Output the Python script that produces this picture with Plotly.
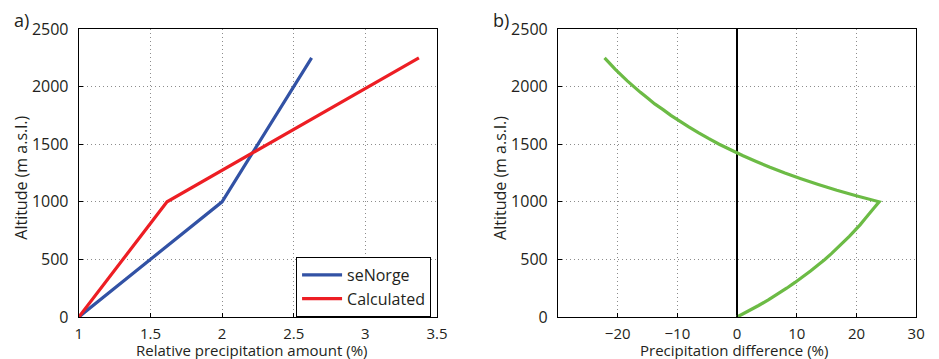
import plotly.graph_objects as go
from plotly.subplots import make_subplots

# Panel a) relative precipitation vs altitude
alt_blue = [0, 1000, 2250]
senorge = [1.0, 2.0, 2.625]
alt_red = [0, 1000, 2250]
calculated = [1.0, 1.616, 3.374]

# Panel b) precipitation difference (%) vs altitude
alt_diff = [0, 50, 100, 150, 200, 250, 300, 350, 400, 450, 500, 550, 600, 650, 700, 750,
            800, 850, 900, 950, 1000,
            1050, 1100, 1150, 1200, 1250, 1300, 1350, 1400, 1450, 1500, 1550, 1600, 1650,
            1700, 1750, 1800, 1850, 1900, 1950, 2000, 2050, 2100, 2150, 2200, 2250]
diff = [0.0, 1.8, 3.6, 5.3, 6.8, 8.3, 9.7, 11.0, 12.3, 13.5, 14.7, 15.8, 16.8, 17.8, 18.8, 19.7,
        20.6, 21.4, 22.2, 23.0, 23.8,
        20.1, 16.7, 13.6, 10.7, 8.0, 5.5, 3.2, 1.0, -1.0, -3.0, -4.8, -6.5, -8.1,
        -9.6, -11.1, -12.4, -13.8, -15.0, -16.2, -17.3, -18.4, -19.4, -20.4, -21.3, -22.2]

xticks_a = [1, 1.5, 2, 2.5, 3, 3.5]
xticklabels_a = ["1", "1.5", "2", "2.5", "3", "3.5"]
xticks_b = [-20, -10, 0, 10, 20, 30]
yticks = [0, 500, 1000, 1500, 2000, 2500]

W, H = 939, 359
TOP, BOT = 29, 42
PH = H - TOP - BOT
FONT = "Open Sans"
TXT = "#231f20"
DOM_A = [76 / W, 440 / W]
DOM_B = [563 / W, 927 / W]

fig = make_subplots(rows=1, cols=2)

fig.add_trace(go.Scatter(x=senorge, y=alt_blue, mode="lines", name="seNorge",
                         line=dict(color="rgb(50,82,165)", width=3.2)), row=1, col=1)
fig.add_trace(go.Scatter(x=calculated, y=alt_red, mode="lines", name="Calculated",
                         line=dict(color="rgb(237,30,36)", width=3.2)), row=1, col=1)
fig.add_trace(go.Scatter(x=diff, y=alt_diff, mode="lines", showlegend=False,
                         line=dict(color="rgb(108,187,69)", width=3.2, simplify=False)), row=1, col=2)

axis_common = dict(showline=True, linecolor="black", linewidth=1.2, mirror=True,
                   ticks="inside", ticklen=4, tickcolor="black",
                   showgrid=True, gridcolor="rgb(140,140,140)", griddash="1px,3px", gridwidth=1,
                   zeroline=False)

fig.update_xaxes(axis_common)
fig.update_yaxes(axis_common)
fig.update_xaxes(ticklabelstandoff=3, tickfont=dict(family=FONT, size=15, color=TXT))
fig.update_yaxes(ticklabelstandoff=6, tickfont=dict(family=FONT, size=16, color=TXT))


def ann(text, x, y, angle=0, size=16, xanchor="center", yanchor="middle"):
    return dict(text=text, x=x, y=y, xref="paper", yref="paper", showarrow=False,
                textangle=angle, xanchor=xanchor, yanchor=yanchor,
                font=dict(family=FONT, size=size, color=TXT))


def py(pix):
    # pixel row -> paper y
    return (H - BOT - pix) / PH


fig.update_layout(
    xaxis=dict(domain=DOM_A, range=[1, 3.5], tickvals=xticks_a, ticktext=xticklabels_a),
    yaxis=dict(range=[0, 2500], tickvals=yticks),
    xaxis2=dict(domain=DOM_B, range=[-30, 30], tickvals=xticks_b,
                zeroline=True, zerolinecolor="black", zerolinewidth=2),
    yaxis2=dict(range=[0, 2500], tickvals=yticks),
    width=W, height=H,
    margin=dict(l=0, r=0, t=TOP, b=BOT),
    paper_bgcolor="white", plot_bgcolor="white",
    font=dict(family=FONT, size=16, color=TXT),
    legend=dict(x=434 / W, xanchor="right", y=0.0, yanchor="bottom",
                bordercolor="black", borderwidth=1, bgcolor="white",
                font=dict(family=FONT, size=16, color=TXT),
                tracegroupgap=0, itemwidth=40),
    annotations=[
        ann("a)", 8 / W, py(20), size=18, xanchor="left"),
        ann("b)", 495 / W, py(20), size=18, xanchor="left"),
        ann("Relative precipitation amount (%)", sum(DOM_A) / 2 - 6 / W, py(349.5), size=15),
        ann("Precipitation difference (%)", sum(DOM_B) / 2 - 3 / W, py(349.5), size=15),
        ann("Altitude (m a.s.l.)", 17 / W, py(178), angle=-90),
        ann("Altitude (m a.s.l.)", 504 / W, py(178), angle=-90),
    ],
)

fig.write_html("out.html")
